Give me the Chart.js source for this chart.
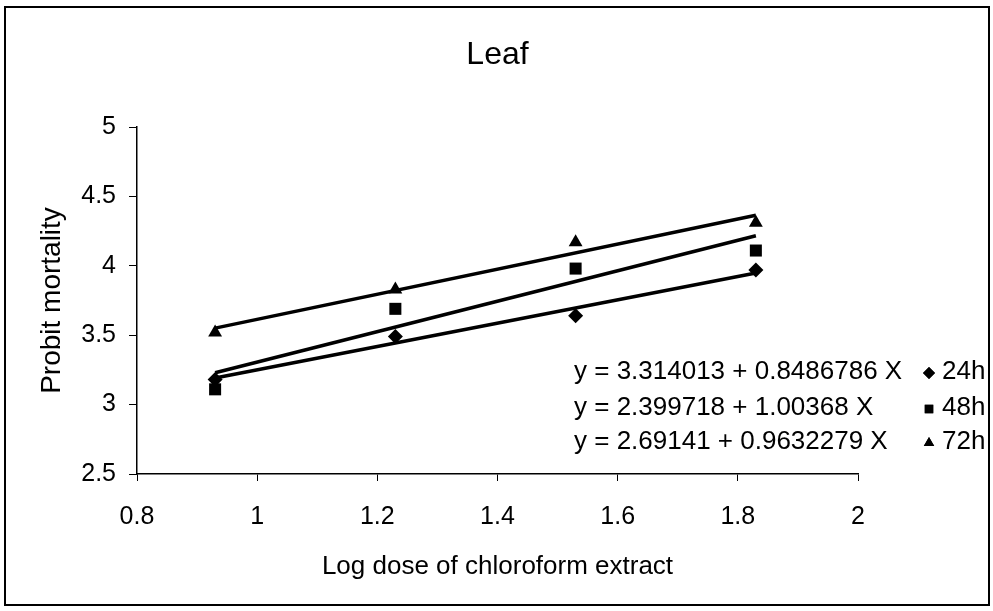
<!DOCTYPE html>
<html>
<head>
<meta charset="utf-8">
<script src="https://cdn.jsdelivr.net/npm/chart.js@4.4.0/dist/chart.umd.min.js"></script>
<style>
html, body { margin: 0; padding: 0; background: #fff; }
#wrap { width: 993px; height: 611px; }
</style>
</head>
<body>
<div id="wrap"><canvas id="leafChart" width="993" height="611"></canvas></div>
<script>
// values
var logDose = [0.93, 1.23, 1.53, 1.83];
var probit24h = [3.18, 3.49, 3.64, 3.97];
var probit48h = [3.11, 3.69, 3.98, 4.11];
var probit72h = [3.52, 3.83, 4.17, 4.31];
var seriesNames = ['24h', '48h', '72h'];
var equations = [
    'y = 3.314013 + 0.8486786 X',
    'y = 2.399718 + 1.00368 X',
    'y = 2.69141 + 0.9632279 X'
];
var xTicks = [0.8, 1, 1.2, 1.4, 1.6, 1.8, 2];
var yTicks = [2.5, 3, 3.5, 4, 4.5, 5];

var FONT = "'Liberation Sans', Arial, sans-serif";
var markerStyles = ['rectRot', 'rect', 'triangle'];
var markerRadius = [7.5, 8.5, 8];

function toPoints(xs, ys) {
    return xs.map(function (x, i) { return { x: x, y: ys[i] }; });
}

// least squares trend line, drawn from first to last dose
function trendLine(xs, ys) {
    var n = xs.length, mx = 0, my = 0;
    for (var i = 0; i < n; i++) { mx += xs[i]; my += ys[i]; }
    mx /= n; my /= n;
    var sxy = 0, sxx = 0;
    for (var j = 0; j < n; j++) {
        sxy += (xs[j] - mx) * (ys[j] - my);
        sxx += (xs[j] - mx) * (xs[j] - mx);
    }
    var b = sxy / sxx, a = my - b * mx;
    return [{ x: xs[0], y: a + b * xs[0] }, { x: xs[n - 1], y: a + b * xs[n - 1] }];
}

var allSeries = [probit24h, probit48h, probit72h];
var datasets = [];
allSeries.forEach(function (ys, i) {
    datasets.push({
        label: seriesNames[i] + ' trend',
        data: trendLine(logDose, ys),
        showLine: true,
        borderColor: '#000',
        borderWidth: 3.5,
        pointRadius: 0,
        fill: false
    });
});
allSeries.forEach(function (ys, i) {
    datasets.push({
        label: seriesNames[i],
        data: toPoints(logDose, ys),
        showLine: false,
        pointStyle: markerStyles[i],
        pointRadius: markerRadius[i],
        backgroundColor: '#000',
        borderColor: '#000',
        borderWidth: 0
    });
});

// outer frame of the figure
var framePlugin = {
    id: 'frame',
    beforeDraw: function (chart) {
        var ctx = chart.ctx;
        ctx.save();
        ctx.fillStyle = '#fff';
        ctx.fillRect(0, 0, chart.width, chart.height);
        ctx.strokeStyle = '#000';
        ctx.lineWidth = 2;
        ctx.strokeRect(5, 7, 984, 598);
        ctx.restore();
    }
};

// equations + legend at the lower right
var eqLegendPlugin = {
    id: 'eqLegend',
    afterDraw: function (chart) {
        var ctx = chart.ctx;
        var rows = [372, 408, 442];
        ctx.save();
        ctx.fillStyle = '#000';
        ctx.font = '26px ' + FONT;
        ctx.textBaseline = 'middle';
        ctx.textAlign = 'left';
        for (var i = 0; i < equations.length; i++) {
            ctx.fillText(equations[i], 574, rows[i]);
            Chart.helpers.drawPoint(ctx, {
                pointStyle: markerStyles[i],
                radius: 6,
                borderWidth: 0,
                rotation: 0
            }, 929, rows[i] + 1);
            ctx.fill();
            ctx.fillText(seriesNames[i], 942, rows[i]);
        }
        ctx.restore();
    }
};

var ctx = document.getElementById('leafChart').getContext('2d');
var leafChart = new Chart(ctx, {
    type: 'scatter',
    data: { datasets: datasets },
    options: {
        responsive: false,
        animation: false,
        devicePixelRatio: 1,
        layout: { padding: { left: 0, right: 135, top: 0, bottom: 0 } },
        plugins: {
            legend: { display: false },
            tooltip: { enabled: false },
            title: {
                display: true,
                fullSize: false,
                text: 'Leaf',
                color: '#000',
                font: { family: FONT, size: 32, weight: 'normal' },
                padding: { top: 36, bottom: 52.6 }
            }
        },
        scales: {
            x: {
                type: 'linear',
                min: 0.8,
                max: 2,
                afterBuildTicks: function (axis) {
                    axis.ticks = xTicks.map(function (v) { return { value: v }; });
                },
                afterFit: function (axis) { axis.height = 137; },
                grid: { display: true, drawOnChartArea: false, tickLength: 7, color: '#000', lineWidth: 1 },
                border: { display: true, color: '#000', width: 1.5 },
                ticks: {
                    color: '#000',
                    font: { family: FONT, size: 25 },
                    padding: 21,
                    maxRotation: 0,
                    autoSkip: false,
                    callback: function (v) { return String(v); }
                },
                title: {
                    display: true,
                    text: 'Log dose of chloroform extract',
                    color: '#000',
                    font: { family: FONT, size: 26 },
                    padding: { top: 0, bottom: 29 }
                }
            },
            y: {
                type: 'linear',
                min: 2.5,
                max: 5,
                afterBuildTicks: function (axis) {
                    axis.ticks = yTicks.map(function (v) { return { value: v }; });
                },
                afterFit: function (axis) { axis.width = 137; },
                grid: { display: true, drawOnChartArea: false, tickLength: 8, color: '#000', lineWidth: 1 },
                border: { display: true, color: '#000', width: 1.5 },
                ticks: {
                    color: '#000',
                    font: { family: FONT, size: 25 },
                    padding: 13,
                    autoSkip: false,
                    callback: function (v) { return String(v); }
                },
                title: {
                    display: true,
                    text: 'Probit mortality',
                    color: '#000',
                    font: { family: FONT, size: 28 },
                    padding: { top: 35, bottom: 0 }
                }
            }
        }
    },
    plugins: [framePlugin, eqLegendPlugin]
});
</script>
</body>
</html>
